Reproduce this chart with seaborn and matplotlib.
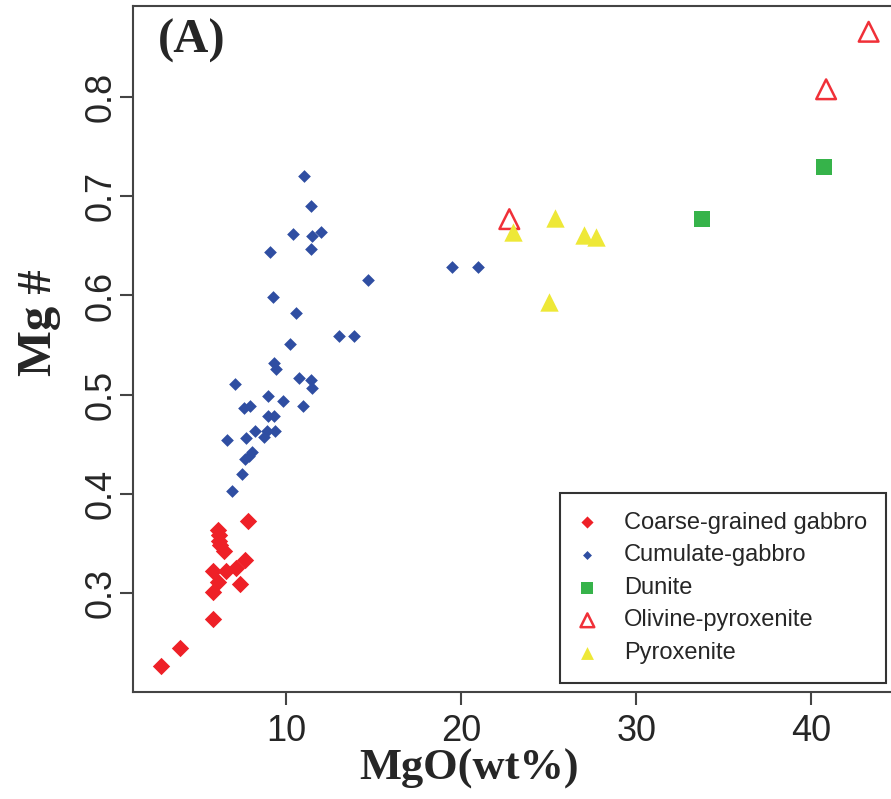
import numpy as np
import pandas as pd
import matplotlib
matplotlib.use('Agg')
import matplotlib.pyplot as plt
import seaborn as sns

# ---- data: MgO (wt%) vs Mg# ----
cg_mgo = [7.79, 6.10, 6.15, 6.13, 6.23, 6.42, 7.66, 7.14, 6.57, 5.81, 6.07, 5.81, 7.33, 5.81, 3.90, 2.86]
cg_mg = [0.373, 0.363, 0.358, 0.352, 0.348, 0.342, 0.333, 0.325, 0.322, 0.322, 0.311, 0.301, 0.309, 0.274, 0.244, 0.226]

cum_mgo = [10.99, 11.39, 10.36, 11.47, 11.98, 11.39, 9.07, 14.67, 9.22, 10.55, 12.99, 13.85,
           10.19, 9.31, 9.41, 10.74, 11.39, 11.49, 7.07, 8.95, 9.79, 10.93, 7.56, 7.94,
           8.95, 9.27, 8.19, 8.90, 9.33, 8.70, 7.71, 6.59, 8.04, 7.85, 7.66, 7.45, 6.87,
           19.49, 20.97]
cum_mg = [0.721, 0.690, 0.662, 0.660, 0.664, 0.647, 0.644, 0.616, 0.598, 0.582, 0.559, 0.559,
          0.551, 0.532, 0.526, 0.517, 0.515, 0.507, 0.511, 0.499, 0.494, 0.489, 0.486, 0.488,
          0.478, 0.478, 0.463, 0.463, 0.463, 0.457, 0.456, 0.454, 0.442, 0.438, 0.435, 0.420, 0.403,
          0.629, 0.629]

dun_mgo = [33.75, 40.72]
dun_mg = [0.677, 0.730]

olp_mgo = [22.74, 40.84, 43.27]
olp_mg = [0.677, 0.808, 0.866]

pyx_mgo = [22.93, 25.37, 27.03, 27.71, 25.01]
pyx_mg = [0.664, 0.678, 0.661, 0.659, 0.593]

groups = ['Coarse-grained gabbro', 'Cumulate-gabbro', 'Dunite', 'Olivine-pyroxenite', 'Pyroxenite']

df = pd.concat([
    pd.DataFrame({'MgO': cg_mgo, 'Mg': cg_mg, 'rock': groups[0]}),
    pd.DataFrame({'MgO': cum_mgo, 'Mg': cum_mg, 'rock': groups[1]}),
    pd.DataFrame({'MgO': dun_mgo, 'Mg': dun_mg, 'rock': groups[2]}),
    pd.DataFrame({'MgO': olp_mgo, 'Mg': olp_mg, 'rock': groups[3]}),
    pd.DataFrame({'MgO': pyx_mgo, 'Mg': pyx_mg, 'rock': groups[4]}),
])

# marker, size, face, edge, linewidth
styles = {
    'Coarse-grained gabbro': ('D', 78, '#EE2027', '#EE2027', 0),
    'Cumulate-gabbro': ('D', 42, '#2F4EA2', '#2F4EA2', 0),
    'Dunite': ('s', 135, '#36B34A', '#36B34A', 0),
    'Olivine-pyroxenite': ('^', 200, 'none', '#F03038', 1.8),
    'Pyroxenite': ('^', 175, '#EEE837', '#EEE837', 0),
}

sns.set_style('ticks')
plt.rcParams['font.family'] = ['Liberation Sans', 'DejaVu Sans']
serif = ['Liberation Serif', 'DejaVu Serif']

fig = plt.figure(figsize=(8.91, 7.99), dpi=100)
ax = fig.add_axes([133 / 891, 107 / 799, (897 - 133) / 891, 686 / 799])

for g in groups:
    m, s, fc, ec, lw = styles[g]
    sub = df[df['rock'] == g]
    sns.scatterplot(data=sub, x='MgO', y='Mg', ax=ax, marker=m, s=s,
                    facecolor=fc, edgecolor=ec, linewidth=lw, label=g, zorder=3)

ax.set_xlim(1.24, 44.89)
ax.set_ylim(0.200, 0.892)
ax.set_xticks([10, 20, 30, 40])
ax.set_yticks([0.3, 0.4, 0.5, 0.6, 0.7, 0.8])

for sp in ax.spines.values():
    sp.set_visible(True)
    sp.set_color('#444444')
    sp.set_linewidth(1.5)

ax.tick_params(direction='out', length=9.5, width=1.5, color='#444444', labelsize=26)
ax.tick_params(axis='x', pad=6)
ax.tick_params(axis='y', pad=1)
plt.setp(ax.get_yticklabels(), rotation=90, va='center')

ax.set_xlabel('MgO(wt%)', family=serif, weight='bold', fontsize=32, va='baseline')
ax.xaxis.set_label_coords(0.44, -0.127)
ax.set_ylabel('Mg #', family=serif, weight='bold', fontsize=35, va='center', ha='center')
ax.yaxis.set_label_coords(-0.123, 0.539)

fig.text(158 / 891, 1 - 53 / 799, '(A)', family=serif, weight='bold', fontsize=35,
         ha='left', va='baseline')

leg = ax.legend(loc='lower right', bbox_to_anchor=(886 / 891, 116 / 799),
                bbox_transform=fig.transFigure, frameon=True, fancybox=False,
                edgecolor='#333333', framealpha=1, fontsize=17, markerscale=0.7,
                borderpad=0.8, handlelength=0.7, handletextpad=1.2, labelspacing=0.45,
                borderaxespad=0)
leg.get_frame().set_linewidth(1.5)

fig.savefig('out.png', dpi=100)
